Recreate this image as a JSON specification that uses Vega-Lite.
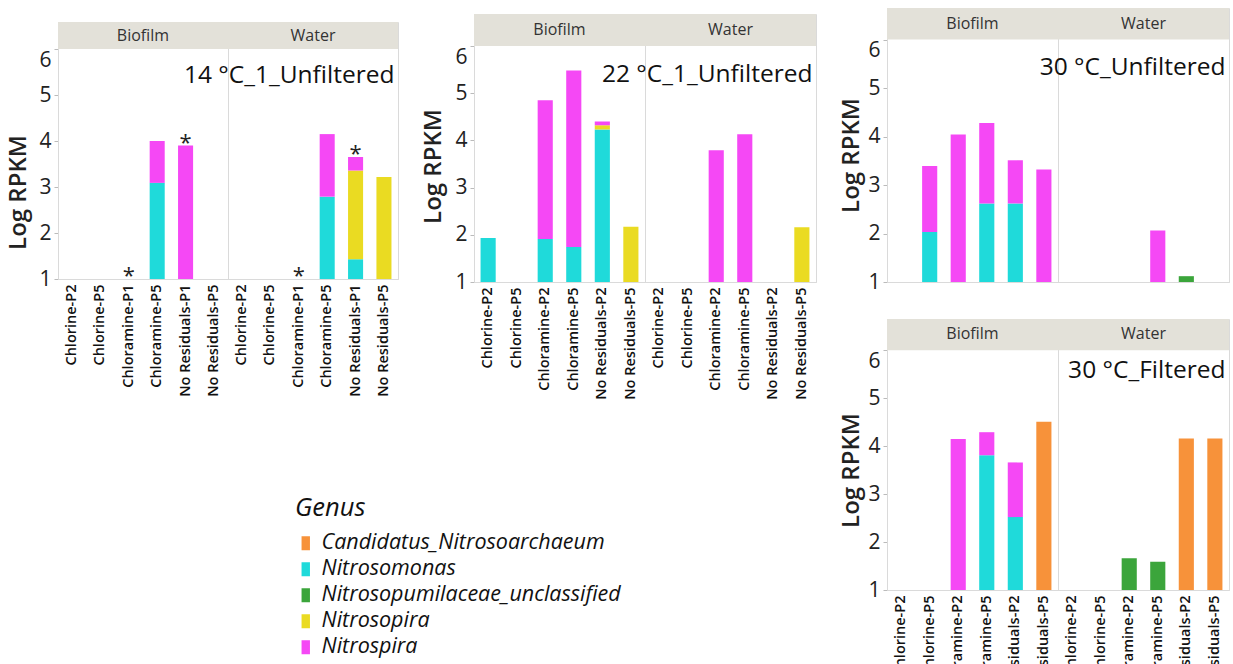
{
  "$schema": "https://vega.github.io/schema/vega-lite/v6.json",
  "padding": {"left": 6, "top": 5, "right": 0, "bottom": 0},
  "autosize": {"type": "pad"},
  "datasets": {
    "p14": [
      {"site": "Biofilm", "kind": "header"},
      {"site": "Water", "kind": "header"},
      {"site": "Water", "kind": "title", "sample": "No Residuals-P5", "label": "14 °C_1_Unfiltered"},
      {"site": "Biofilm", "kind": "bar", "sample": "Chloramine-P5", "genus": "Nitrosomonas", "value": 3.09},
      {"site": "Biofilm", "kind": "bar", "sample": "Chloramine-P5", "genus": "Nitrospira", "value": 0.91},
      {"site": "Biofilm", "kind": "bar", "sample": "No Residuals-P1", "genus": "Nitrospira", "value": 3.9},
      {"site": "Water", "kind": "bar", "sample": "Chloramine-P5", "genus": "Nitrosomonas", "value": 2.79},
      {"site": "Water", "kind": "bar", "sample": "Chloramine-P5", "genus": "Nitrospira", "value": 1.36},
      {"site": "Water", "kind": "bar", "sample": "No Residuals-P1", "genus": "Nitrosomonas", "value": 1.43},
      {"site": "Water", "kind": "bar", "sample": "No Residuals-P1", "genus": "Nitrosopira", "value": 1.93},
      {"site": "Water", "kind": "bar", "sample": "No Residuals-P1", "genus": "Nitrospira", "value": 0.29},
      {"site": "Water", "kind": "bar", "sample": "No Residuals-P5", "genus": "Nitrosopira", "value": 3.22},
      {"site": "Biofilm", "kind": "star", "sample": "Chloramine-P1", "label": "*", "value": 1},
      {"site": "Biofilm", "kind": "star", "sample": "No Residuals-P1", "label": "*", "value": 3.9},
      {"site": "Water", "kind": "star", "sample": "Chloramine-P1", "label": "*", "value": 1},
      {"site": "Water", "kind": "star", "sample": "No Residuals-P1", "label": "*", "value": 3.65}
    ],
    "p22": [
      {"site": "Biofilm", "kind": "header"},
      {"site": "Water", "kind": "header"},
      {"site": "Water", "kind": "title", "sample": "No Residuals-P5", "label": "22 °C_1_Unfiltered"},
      {"site": "Biofilm", "kind": "bar", "sample": "Chlorine-P2", "genus": "Nitrosomonas", "value": 1.93},
      {"site": "Biofilm", "kind": "bar", "sample": "Chloramine-P2", "genus": "Nitrosomonas", "value": 1.91},
      {"site": "Biofilm", "kind": "bar", "sample": "Chloramine-P2", "genus": "Nitrospira", "value": 2.94},
      {"site": "Biofilm", "kind": "bar", "sample": "Chloramine-P5", "genus": "Nitrosomonas", "value": 1.74},
      {"site": "Biofilm", "kind": "bar", "sample": "Chloramine-P5", "genus": "Nitrospira", "value": 3.74},
      {"site": "Biofilm", "kind": "bar", "sample": "No Residuals-P2", "genus": "Nitrosomonas", "value": 4.23},
      {"site": "Biofilm", "kind": "bar", "sample": "No Residuals-P2", "genus": "Nitrosopira", "value": 0.09},
      {"site": "Biofilm", "kind": "bar", "sample": "No Residuals-P2", "genus": "Nitrospira", "value": 0.08},
      {"site": "Biofilm", "kind": "bar", "sample": "No Residuals-P5", "genus": "Nitrosopira", "value": 2.17},
      {"site": "Water", "kind": "bar", "sample": "Chloramine-P2", "genus": "Nitrospira", "value": 3.79},
      {"site": "Water", "kind": "bar", "sample": "Chloramine-P5", "genus": "Nitrospira", "value": 4.13},
      {"site": "Water", "kind": "bar", "sample": "No Residuals-P5", "genus": "Nitrosopira", "value": 2.16}
    ],
    "p30u": [
      {"site": "Biofilm", "kind": "header"},
      {"site": "Water", "kind": "header"},
      {"site": "Water", "kind": "title", "sample": "No Residuals-P5", "label": "30 °C_Unfiltered"},
      {"site": "Biofilm", "kind": "bar", "sample": "Chlorine-P5", "genus": "Nitrosomonas", "value": 2.03},
      {"site": "Biofilm", "kind": "bar", "sample": "Chlorine-P5", "genus": "Nitrospira", "value": 1.36},
      {"site": "Biofilm", "kind": "bar", "sample": "Chloramine-P2", "genus": "Nitrospira", "value": 4.04},
      {"site": "Biofilm", "kind": "bar", "sample": "Chloramine-P5", "genus": "Nitrosomonas", "value": 2.62},
      {"site": "Biofilm", "kind": "bar", "sample": "Chloramine-P5", "genus": "Nitrospira", "value": 1.66},
      {"site": "Biofilm", "kind": "bar", "sample": "No Residuals-P2", "genus": "Nitrosomonas", "value": 2.62},
      {"site": "Biofilm", "kind": "bar", "sample": "No Residuals-P2", "genus": "Nitrospira", "value": 0.89},
      {"site": "Biofilm", "kind": "bar", "sample": "No Residuals-P5", "genus": "Nitrospira", "value": 3.32},
      {"site": "Water", "kind": "bar", "sample": "Chloramine-P5", "genus": "Nitrospira", "value": 2.06},
      {"site": "Water", "kind": "bar", "sample": "No Residuals-P2", "genus": "Nitrosopumilaceae_unclassified", "value": 1.12}
    ],
    "p30f": [
      {"site": "Biofilm", "kind": "header"},
      {"site": "Water", "kind": "header"},
      {"site": "Water", "kind": "title", "sample": "No Residuals-P5", "label": "30 °C_Filtered"},
      {"site": "Biofilm", "kind": "bar", "sample": "Chloramine-P2", "genus": "Nitrospira", "value": 4.15},
      {"site": "Biofilm", "kind": "bar", "sample": "Chloramine-P5", "genus": "Nitrosomonas", "value": 3.81},
      {"site": "Biofilm", "kind": "bar", "sample": "Chloramine-P5", "genus": "Nitrospira", "value": 0.48},
      {"site": "Biofilm", "kind": "bar", "sample": "No Residuals-P2", "genus": "Nitrosomonas", "value": 2.52},
      {"site": "Biofilm", "kind": "bar", "sample": "No Residuals-P2", "genus": "Nitrospira", "value": 1.14},
      {"site": "Biofilm", "kind": "bar", "sample": "No Residuals-P5", "genus": "Candidatus_Nitrosoarchaeum", "value": 4.51},
      {"site": "Water", "kind": "bar", "sample": "Chloramine-P2", "genus": "Nitrosopumilaceae_unclassified", "value": 1.66},
      {"site": "Water", "kind": "bar", "sample": "Chloramine-P5", "genus": "Nitrosopumilaceae_unclassified", "value": 1.59},
      {"site": "Water", "kind": "bar", "sample": "No Residuals-P2", "genus": "Candidatus_Nitrosoarchaeum", "value": 4.16},
      {"site": "Water", "kind": "bar", "sample": "No Residuals-P5", "genus": "Candidatus_Nitrosoarchaeum", "value": 4.16}
    ]
  },
  "spacing": 22,
  "align": "none",
  "resolve": {"scale": {"color": "shared"}},
  "hconcat": [
    {
      "spacing": 9,
      "align": "none",
      "vconcat": [
        {"data": {"values": [{}]}, "width": 10, "height": 1, "view": {"stroke": null}, "mark": {"type": "point", "opacity": 0}, "encoding": {}},
        {
          "data": {"name": "p14"},
          "facet": {"column": {"field": "site", "type": "nominal", "sort": ["Biofilm", "Water"], "header": {"labels": false, "title": null}}},
          "spacing": 0,
          "bounds": "flush",
          "spec": {
            "width": 170,
            "height": 257,
            "layer": [
              {
                "transform": [{"filter": "datum.kind == 'header'"}],
                "mark": {"type": "rect", "fill": "#E3E1D9"},
                "encoding": {
                  "y": {"datum": 6, "type": "quantitative", "title": "Log RPKM", "scale": {"domain": [1, 6.587], "nice": false, "zero": false}},
                  "y2": {"datum": 6.587}
                }
              },
              {
                "transform": [{"filter": "datum.kind == 'header'"}],
                "mark": {"type": "text", "fontSize": 16, "color": "#333", "baseline": "middle"},
                "encoding": {
                  "y": {"datum": 6.29, "type": "quantitative", "title": "Log RPKM", "scale": {"domain": [1, 6.587], "nice": false, "zero": false}},
                  "text": {"field": "site"}
                }
              },
              {
                "transform": [{"filter": "datum.kind == 'bar'"}],
                "mark": {"type": "bar", "clip": true},
                "encoding": {
                  "x": {"field": "sample", "type": "nominal", "title": null,
                    "scale": {"domain": ["Chlorine-P2", "Chlorine-P5", "Chloramine-P1", "Chloramine-P5", "No Residuals-P1", "No Residuals-P5"], "paddingInner": 0.47, "paddingOuter": 0.23},
                    "axis": {"labelAngle": -90, "labelFontSize": 14.5, "labelFontWeight": 600, "labelColor": "#111", "ticks": false, "tickSize": 0, "labelPadding": 5, "domainColor": "#c8c8c8"}},
                  "y": {"field": "value", "type": "quantitative", "stack": "zero", "title": "Log RPKM",
                    "scale": {"domain": [1, 6.587], "nice": false, "zero": false},
                    "axis": {"values": [1, 2, 3, 4, 5, 6], "grid": false, "labelFontSize": 21, "labelColor": "#222", "labelPadding": 3, "tickSize": 4, "tickColor": "#bbb", "domainColor": "#c8c8c8", "titleFontSize": 24, "titleFontWeight": 600, "titleColor": "#222", "titlePadding": 8, "titleY": 170, "labelBaseline": {"condition": {"test": "datum.value == 6", "value": "top"}, "value": "middle"}}},
                  "color": {"field": "genus", "type": "nominal", "title": "Genus",
                    "scale": {"domain": ["Candidatus_Nitrosoarchaeum", "Nitrosomonas", "Nitrosopumilaceae_unclassified", "Nitrosopira", "Nitrospira"], "range": ["#F7923A", "#1FDADA", "#3BA53B", "#EADB22", "#F548F5"]}},
                  "order": {"field": "genus", "type": "ordinal", "sort": "ascending"}
                }
              },
              {
                "transform": [{"filter": "datum.kind == 'star'"}],
                "mark": {"type": "text", "fontSize": 22, "baseline": "alphabetic", "dy": 4, "color": "#222"},
                "encoding": {
                  "x": {"field": "sample", "type": "nominal"},
                  "y": {"field": "value", "type": "quantitative", "title": "Log RPKM", "scale": {"domain": [1, 6.587], "nice": false, "zero": false}},
                  "text": {"field": "label"}
                }
              },
              {
                "transform": [{"filter": "datum.kind == 'title'"}],
                "mark": {"type": "text", "fontSize": 24.5, "align": "right", "baseline": "alphabetic", "dx": 3, "color": "#111"},
                "encoding": {
                  "x": {"field": "sample", "type": "nominal", "bandPosition": 1},
                  "y": {"datum": 5.26, "type": "quantitative", "title": "Log RPKM", "scale": {"domain": [1, 6.587], "nice": false, "zero": false}},
                  "text": {"field": "label"}
                }
              }
            ]
          }
        }
      ]
    },
    {
      "spacing": 1,
      "align": "none",
      "vconcat": [
        {"data": {"values": [{}]}, "width": 10, "height": 1, "view": {"stroke": null}, "mark": {"type": "point", "opacity": 0}, "encoding": {}},
        {
          "data": {"name": "p22"},
          "facet": {"column": {"field": "site", "type": "nominal", "sort": ["Biofilm", "Water"], "header": {"labels": false, "title": null}}},
          "spacing": 0,
          "bounds": "flush",
          "spec": {
            "width": 171,
            "height": 268,
            "layer": [
              {
                "transform": [{"filter": "datum.kind == 'header'"}],
                "mark": {"type": "rect", "fill": "#E3E1D9"},
                "encoding": {
                  "y": {"datum": 6, "type": "quantitative", "title": "Log RPKM", "scale": {"domain": [1, 6.68], "nice": false, "zero": false}},
                  "y2": {"datum": 6.68}
                }
              },
              {
                "transform": [{"filter": "datum.kind == 'header'"}],
                "mark": {"type": "text", "fontSize": 16, "color": "#333", "baseline": "middle"},
                "encoding": {
                  "y": {"datum": 6.34, "type": "quantitative", "title": "Log RPKM", "scale": {"domain": [1, 6.68], "nice": false, "zero": false}},
                  "text": {"field": "site"}
                }
              },
              {
                "transform": [{"filter": "datum.kind == 'bar'"}],
                "mark": {"type": "bar", "clip": true},
                "encoding": {
                  "x": {"field": "sample", "type": "nominal", "title": null,
                    "scale": {"domain": ["Chlorine-P2", "Chlorine-P5", "Chloramine-P2", "Chloramine-P5", "No Residuals-P2", "No Residuals-P5"], "paddingInner": 0.47, "paddingOuter": 0.23},
                    "axis": {"labelAngle": -90, "labelFontSize": 14.5, "labelFontWeight": 600, "labelColor": "#111", "ticks": false, "tickSize": 0, "labelPadding": 5, "domainColor": "#c8c8c8"}},
                  "y": {"field": "value", "type": "quantitative", "stack": "zero", "title": "Log RPKM",
                    "scale": {"domain": [1, 6.68], "nice": false, "zero": false},
                    "axis": {"values": [1, 2, 3, 4, 5, 6], "grid": false, "labelFontSize": 21, "labelColor": "#222", "labelPadding": 3, "tickSize": 4, "tickColor": "#bbb", "domainColor": "#c8c8c8", "titleFontSize": 24, "titleFontWeight": 600, "titleColor": "#222", "titlePadding": 9, "titleY": 152, "labelBaseline": {"condition": {"test": "datum.value == 6", "value": "top"}, "value": "middle"}}},
                  "color": {"field": "genus", "type": "nominal", "title": "Genus",
                    "scale": {"domain": ["Candidatus_Nitrosoarchaeum", "Nitrosomonas", "Nitrosopumilaceae_unclassified", "Nitrosopira", "Nitrospira"], "range": ["#F7923A", "#1FDADA", "#3BA53B", "#EADB22", "#F548F5"]}},
                  "order": {"field": "genus", "type": "ordinal", "sort": "ascending"}
                }
              },
              {
                "transform": [{"filter": "datum.kind == 'title'"}],
                "mark": {"type": "text", "fontSize": 24.5, "align": "right", "baseline": "alphabetic", "dx": 3, "color": "#111"},
                "encoding": {
                  "x": {"field": "sample", "type": "nominal", "bandPosition": 1},
                  "y": {"datum": 5.23, "type": "quantitative", "title": "Log RPKM", "scale": {"domain": [1, 6.68], "nice": false, "zero": false}},
                  "text": {"field": "label"}
                }
              }
            ]
          }
        }
      ]
    },
    {
      "spacing": 26,
      "align": "none",
      "vconcat": [
        {
          "data": {"name": "p30u"},
          "facet": {"column": {"field": "site", "type": "nominal", "sort": ["Biofilm", "Water"], "header": {"labels": false, "title": null}}},
          "spacing": 0,
          "bounds": "flush",
          "spec": {
            "width": 171,
            "height": 274,
            "layer": [
              {
                "transform": [{"filter": "datum.kind == 'header'"}],
                "mark": {"type": "rect", "fill": "#E3E1D9"},
                "encoding": {
                  "y": {"datum": 6, "type": "quantitative", "title": "Log RPKM", "scale": {"domain": [1, 6.65], "nice": false, "zero": false}},
                  "y2": {"datum": 6.65}
                }
              },
              {
                "transform": [{"filter": "datum.kind == 'header'"}],
                "mark": {"type": "text", "fontSize": 16, "color": "#333", "baseline": "middle"},
                "encoding": {
                  "y": {"datum": 6.33, "type": "quantitative", "title": "Log RPKM", "scale": {"domain": [1, 6.65], "nice": false, "zero": false}},
                  "text": {"field": "site"}
                }
              },
              {
                "transform": [{"filter": "datum.kind == 'bar'"}],
                "mark": {"type": "bar", "clip": true},
                "encoding": {
                  "x": {"field": "sample", "type": "nominal", "title": null,
                    "scale": {"domain": ["Chlorine-P2", "Chlorine-P5", "Chloramine-P2", "Chloramine-P5", "No Residuals-P2", "No Residuals-P5"], "paddingInner": 0.47, "paddingOuter": 0.23},
                    "axis": {"labels": false, "ticks": false, "tickSize": 0, "domainColor": "#c8c8c8"}},
                  "y": {"field": "value", "type": "quantitative", "stack": "zero", "title": "Log RPKM",
                    "scale": {"domain": [1, 6.65], "nice": false, "zero": false},
                    "axis": {"values": [1, 2, 3, 4, 5, 6], "grid": false, "labelFontSize": 21, "labelColor": "#222", "labelPadding": 3, "tickSize": 4, "tickColor": "#bbb", "domainColor": "#c8c8c8", "titleFontSize": 24, "titleFontWeight": 600, "titleColor": "#222", "titlePadding": 4, "titleY": 147, "labelBaseline": {"condition": {"test": "datum.value == 6", "value": "top"}, "value": "middle"}}},
                  "color": {"field": "genus", "type": "nominal", "title": "Genus",
                    "scale": {"domain": ["Candidatus_Nitrosoarchaeum", "Nitrosomonas", "Nitrosopumilaceae_unclassified", "Nitrosopira", "Nitrospira"], "range": ["#F7923A", "#1FDADA", "#3BA53B", "#EADB22", "#F548F5"]}},
                  "order": {"field": "genus", "type": "ordinal", "sort": "ascending"}
                }
              },
              {
                "transform": [{"filter": "datum.kind == 'title'"}],
                "mark": {"type": "text", "fontSize": 24.5, "align": "right", "baseline": "alphabetic", "dx": 3, "color": "#111"},
                "encoding": {
                  "x": {"field": "sample", "type": "nominal", "bandPosition": 1},
                  "y": {"datum": 5.27, "type": "quantitative", "title": "Log RPKM", "scale": {"domain": [1, 6.65], "nice": false, "zero": false}},
                  "text": {"field": "label"}
                }
              }
            ]
          }
        },
        {
          "data": {"name": "p30f"},
          "facet": {"column": {"field": "site", "type": "nominal", "sort": ["Biofilm", "Water"], "header": {"labels": false, "title": null}}},
          "spacing": 0,
          "bounds": "flush",
          "spec": {
            "width": 171,
            "height": 271,
            "layer": [
              {
                "transform": [{"filter": "datum.kind == 'header'"}],
                "mark": {"type": "rect", "fill": "#E3E1D9"},
                "encoding": {
                  "y": {"datum": 6, "type": "quantitative", "title": "Log RPKM", "scale": {"domain": [1, 6.65], "nice": false, "zero": false}},
                  "y2": {"datum": 6.65}
                }
              },
              {
                "transform": [{"filter": "datum.kind == 'header'"}],
                "mark": {"type": "text", "fontSize": 16, "color": "#333", "baseline": "middle"},
                "encoding": {
                  "y": {"datum": 6.33, "type": "quantitative", "title": "Log RPKM", "scale": {"domain": [1, 6.65], "nice": false, "zero": false}},
                  "text": {"field": "site"}
                }
              },
              {
                "transform": [{"filter": "datum.kind == 'bar'"}],
                "mark": {"type": "bar", "clip": true},
                "encoding": {
                  "x": {"field": "sample", "type": "nominal", "title": null,
                    "scale": {"domain": ["Chlorine-P2", "Chlorine-P5", "Chloramine-P2", "Chloramine-P5", "No Residuals-P2", "No Residuals-P5"], "paddingInner": 0.47, "paddingOuter": 0.23},
                    "axis": {"labelAngle": -90, "labelFontSize": 14.5, "labelFontWeight": 600, "labelColor": "#111", "ticks": false, "tickSize": 0, "labelPadding": 5, "domainColor": "#c8c8c8"}},
                  "y": {"field": "value", "type": "quantitative", "stack": "zero", "title": "Log RPKM",
                    "scale": {"domain": [1, 6.65], "nice": false, "zero": false},
                    "axis": {"values": [1, 2, 3, 4, 5, 6], "grid": false, "labelFontSize": 21, "labelColor": "#222", "labelPadding": 3, "tickSize": 4, "tickColor": "#bbb", "domainColor": "#c8c8c8", "titleFontSize": 24, "titleFontWeight": 600, "titleColor": "#222", "titlePadding": 4, "titleY": 151, "labelBaseline": {"condition": {"test": "datum.value == 6", "value": "top"}, "value": "middle"}}},
                  "color": {"field": "genus", "type": "nominal", "title": "Genus",
                    "scale": {"domain": ["Candidatus_Nitrosoarchaeum", "Nitrosomonas", "Nitrosopumilaceae_unclassified", "Nitrosopira", "Nitrospira"], "range": ["#F7923A", "#1FDADA", "#3BA53B", "#EADB22", "#F548F5"]}},
                  "order": {"field": "genus", "type": "ordinal", "sort": "ascending"}
                }
              },
              {
                "transform": [{"filter": "datum.kind == 'title'"}],
                "mark": {"type": "text", "fontSize": 24.5, "align": "right", "baseline": "alphabetic", "dx": 3, "color": "#111"},
                "encoding": {
                  "x": {"field": "sample", "type": "nominal", "bandPosition": 1},
                  "y": {"datum": 5.42, "type": "quantitative", "title": "Log RPKM", "scale": {"domain": [1, 6.65], "nice": false, "zero": false}},
                  "text": {"field": "label"}
                }
              }
            ]
          }
        }
      ]
    }
  ],
  "config": {
    "font": "Open Sans",
    "view": {"stroke": "#dadada"},
    "axis": {"grid": false},
    "legend": {
      "orient": "none",
      "legendX": 237,
      "legendY": 488,
      "titleFontSize": 25.5,
      "titleFontStyle": "italic",
      "titleFontWeight": "normal",
      "titleColor": "#111",
      "titlePadding": 11,
      "labelFontSize": 21.5,
      "labelFontStyle": "italic",
      "labelColor": "#111",
      "labelOffset": 5,
      "labelLimit": 400,
      "symbolType": "M-0.6,-1H0.6V1H-0.6Z",
      "symbolSize": 196,
      "symbolStrokeWidth": 0,
      "rowPadding": 3
    }
  }
}
